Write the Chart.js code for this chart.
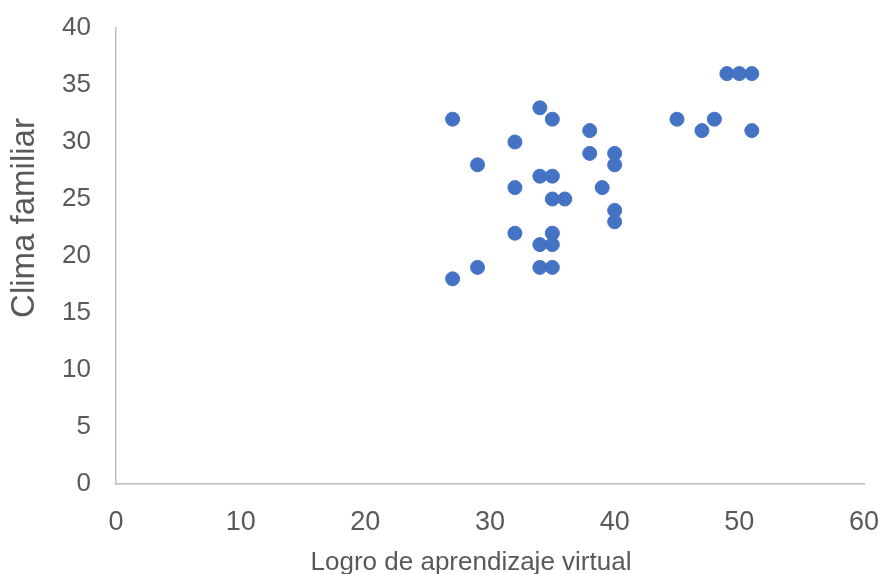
<!DOCTYPE html>
<html>
<head>
<meta charset="utf-8">
<script src="https://cdn.jsdelivr.net/npm/chart.js@4/dist/chart.umd.min.js"></script>
<style>
  html, body { margin: 0; padding: 0; background: #fff; }
  #wrap { width: 886px; height: 574px; }
</style>
</head>
<body>
<div id="wrap"><canvas id="scatterChart"></canvas></div>
<script>
// Logro de aprendizaje virtual (x) vs Clima familiar (y)
const logro = [27, 27, 29, 29, 32, 32, 32, 34, 34, 34, 34, 35, 35, 35, 35, 35, 35, 36,
               38, 38, 39, 40, 40, 40, 40, 45, 47, 48, 49, 50, 51, 51];
const clima = [32, 18, 28, 19, 30, 26, 22, 33, 27, 21, 19, 32, 27, 25, 22, 21, 19, 25,
               31, 29, 26, 29, 28, 24, 23, 32, 31, 32, 36, 36, 36, 31];

const xTitle = 'Logro de aprendizaje virtual';
const yTitle = 'Clima familiar';

const points = logro.map((v, i) => ({ x: v, y: clima[i] }));

const textColor = '#595959';
const axisColor = '#bfbfbf';
const fontFamily = '"Liberation Sans", Arial, sans-serif';

// axis titles sit a bit off-centre in the original, so draw them here
const axisTitles = {
    id: 'axisTitles',
    afterDraw(chart) {
        const ctx = chart.ctx;
        ctx.save();
        ctx.fillStyle = textColor;
        ctx.textAlign = 'center';
        ctx.textBaseline = 'alphabetic';
        ctx.font = '26px ' + fontFamily;
        ctx.fillText(xTitle, 471, 570);
        ctx.translate(34, 218);
        ctx.rotate(-Math.PI / 2);
        ctx.font = '33px ' + fontFamily;
        ctx.fillText(yTitle, 0, 0);
        ctx.restore();
    }
};

new Chart(document.getElementById('scatterChart').getContext('2d'), {
    type: 'scatter',
    data: {
        datasets: [{
            data: points,
            backgroundColor: '#4472C4',
            borderColor: '#4472C4',
            borderWidth: 1,
            pointRadius: 7,
            pointHoverRadius: 7
        }]
    },
    options: {
        responsive: true,
        maintainAspectRatio: false,
        animation: false,
        layout: { padding: { top: 28, right: 22, left: 0, bottom: 0 } },
        plugins: {
            legend: { display: false },
            tooltip: { enabled: false }
        },
        scales: {
            x: {
                type: 'linear',
                min: 0,
                max: 60,
                ticks: {
                    stepSize: 10,
                    color: textColor,
                    font: { family: fontFamily, size: 27 },
                    padding: 22
                },
                grid: { display: false, drawTicks: false },
                border: { color: axisColor, width: 1.5 },
                afterFit: (axis) => {
                    axis.height = 90;
                    axis.paddingLeft = 0;
                    axis.paddingRight = 0;
                }
            },
            y: {
                type: 'linear',
                min: 0,
                max: 40,
                ticks: {
                    stepSize: 5,
                    color: textColor,
                    font: { family: fontFamily, size: 26 },
                    padding: 25
                },
                grid: { display: false, drawTicks: false },
                border: { color: axisColor, width: 1.5 },
                afterFit: (axis) => {
                    axis.width = 116;
                    axis.paddingTop = 0;
                    axis.paddingBottom = 0;
                }
            }
        }
    },
    plugins: [axisTitles]
});
</script>
</body>
</html>
